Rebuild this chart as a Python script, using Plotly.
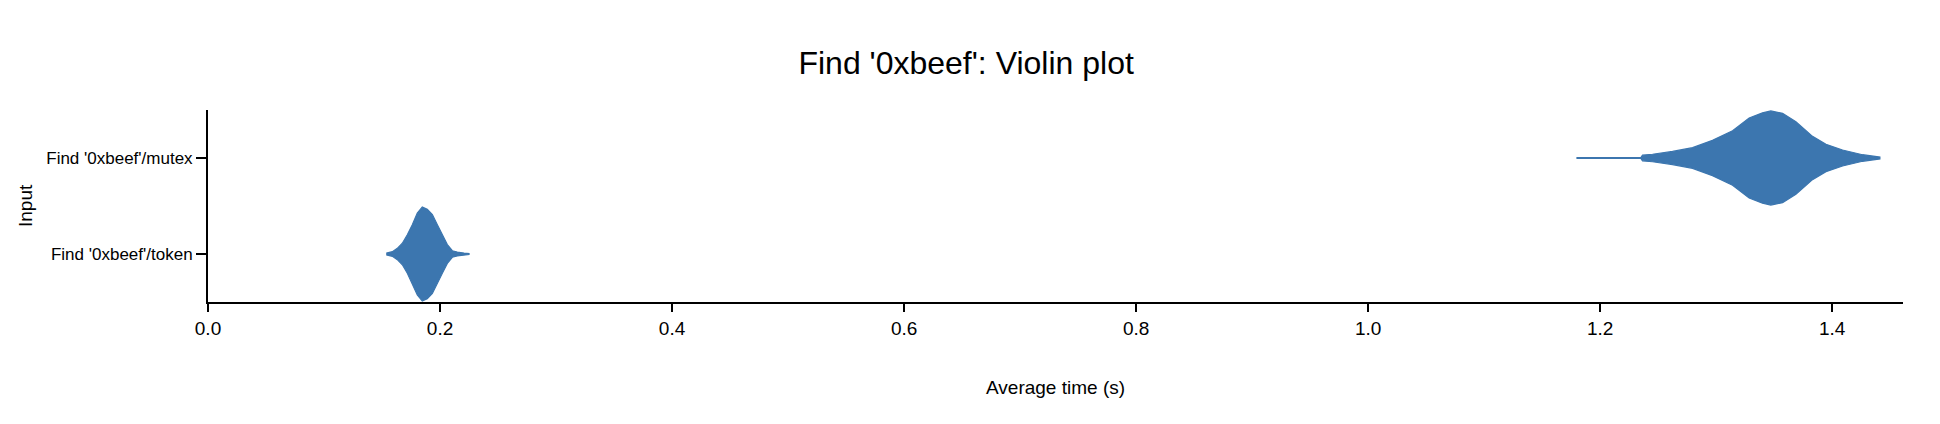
import plotly.graph_objects as go

# ---- data ----
categories = ["Find '0xbeef'/token", "Find '0xbeef'/mutex"]

token_time = [0.1537, 0.1589, 0.1632, 0.1675, 0.1718, 0.1761, 0.1804, 0.1847, 0.1890,
              0.1934, 0.1977, 0.2020, 0.2063, 0.2106, 0.2149, 0.2207, 0.2250]
token_density = [0.02, 0.05, 0.12, 0.23, 0.41, 0.62, 0.87, 1.0, 0.95,
                 0.84, 0.62, 0.41, 0.20, 0.07, 0.04, 0.02, 0.01]

mutex_time = [1.1796, 1.2350, 1.2365, 1.2451, 1.2623, 1.2796, 1.2968, 1.3141, 1.3284,
              1.3399, 1.3471, 1.3572, 1.3687, 1.3830, 1.3946, 1.4089, 1.4261, 1.4411]
mutex_density = [0.01, 0.01, 0.06, 0.08, 0.14, 0.22, 0.375, 0.58, 0.85,
                 0.96, 1.0, 0.95, 0.77, 0.46, 0.29, 0.17, 0.07, 0.02]

x_ticks = [0.0, 0.2, 0.4, 0.6, 0.8, 1.0, 1.2, 1.4]

COLOR = "rgb(60,118,175)"
HALF = 0.49  # max half-width of a violin in category units
FONT = "Liberation Sans, Arial, Helvetica, sans-serif"

fig = go.Figure()

for idx, (xs, ds) in enumerate([(token_time, token_density), (mutex_time, mutex_density)]):
    upper = [idx + d * HALF for d in ds]
    lower = [idx - d * HALF for d in ds]
    fig.add_trace(go.Scatter(
        x=list(xs) + list(xs)[::-1],
        y=upper + lower[::-1],
        mode="lines",
        fill="toself",
        fillcolor=COLOR,
        line=dict(color=COLOR, width=1.2),
        hoverinfo="skip",
        showlegend=False,
    ))

fig.update_layout(
    width=1940, height=424,
    margin=dict(l=208, r=37, t=110, b=122),
    paper_bgcolor="white", plot_bgcolor="white",
    font=dict(family=FONT, color="black"),
    title=dict(text="Find '0xbeef': Violin plot", x=0.498, xanchor="center",
               y=1 - 63 / 424, yanchor="middle", font=dict(size=32, family=FONT)),
    showlegend=False,
)

fig.update_xaxes(
    range=[0, 1.461], tickvals=x_ticks, tickformat=".1f",
    showline=True, linecolor="black", linewidth=2,
    ticks="outside", ticklen=8, tickwidth=2, tickcolor="black",
    showgrid=False, zeroline=False,
    tickfont=dict(size=19, family=FONT),
)
fig.update_yaxes(
    range=[-0.5, 1.5], tickvals=[0, 1], ticktext=categories,
    showline=True, linecolor="black", linewidth=2,
    ticks="outside", ticklen=10, tickwidth=2, tickcolor="black",
    showgrid=False, zeroline=False,
    tickfont=dict(size=17, family=FONT),
)

fig.add_annotation(text="Average time (s)", xref="paper", yref="paper",
                   x=0.5, y=0, yshift=-(387 - 302), xanchor="center", yanchor="middle",
                   showarrow=False, font=dict(size=19, family=FONT))
fig.add_annotation(text="Input", xref="paper", yref="paper",
                   x=0, y=0.5, xshift=-(208 - 25), xanchor="center", yanchor="middle",
                   textangle=-90, showarrow=False, font=dict(size=19, family=FONT))

fig.write_html("out.html")
